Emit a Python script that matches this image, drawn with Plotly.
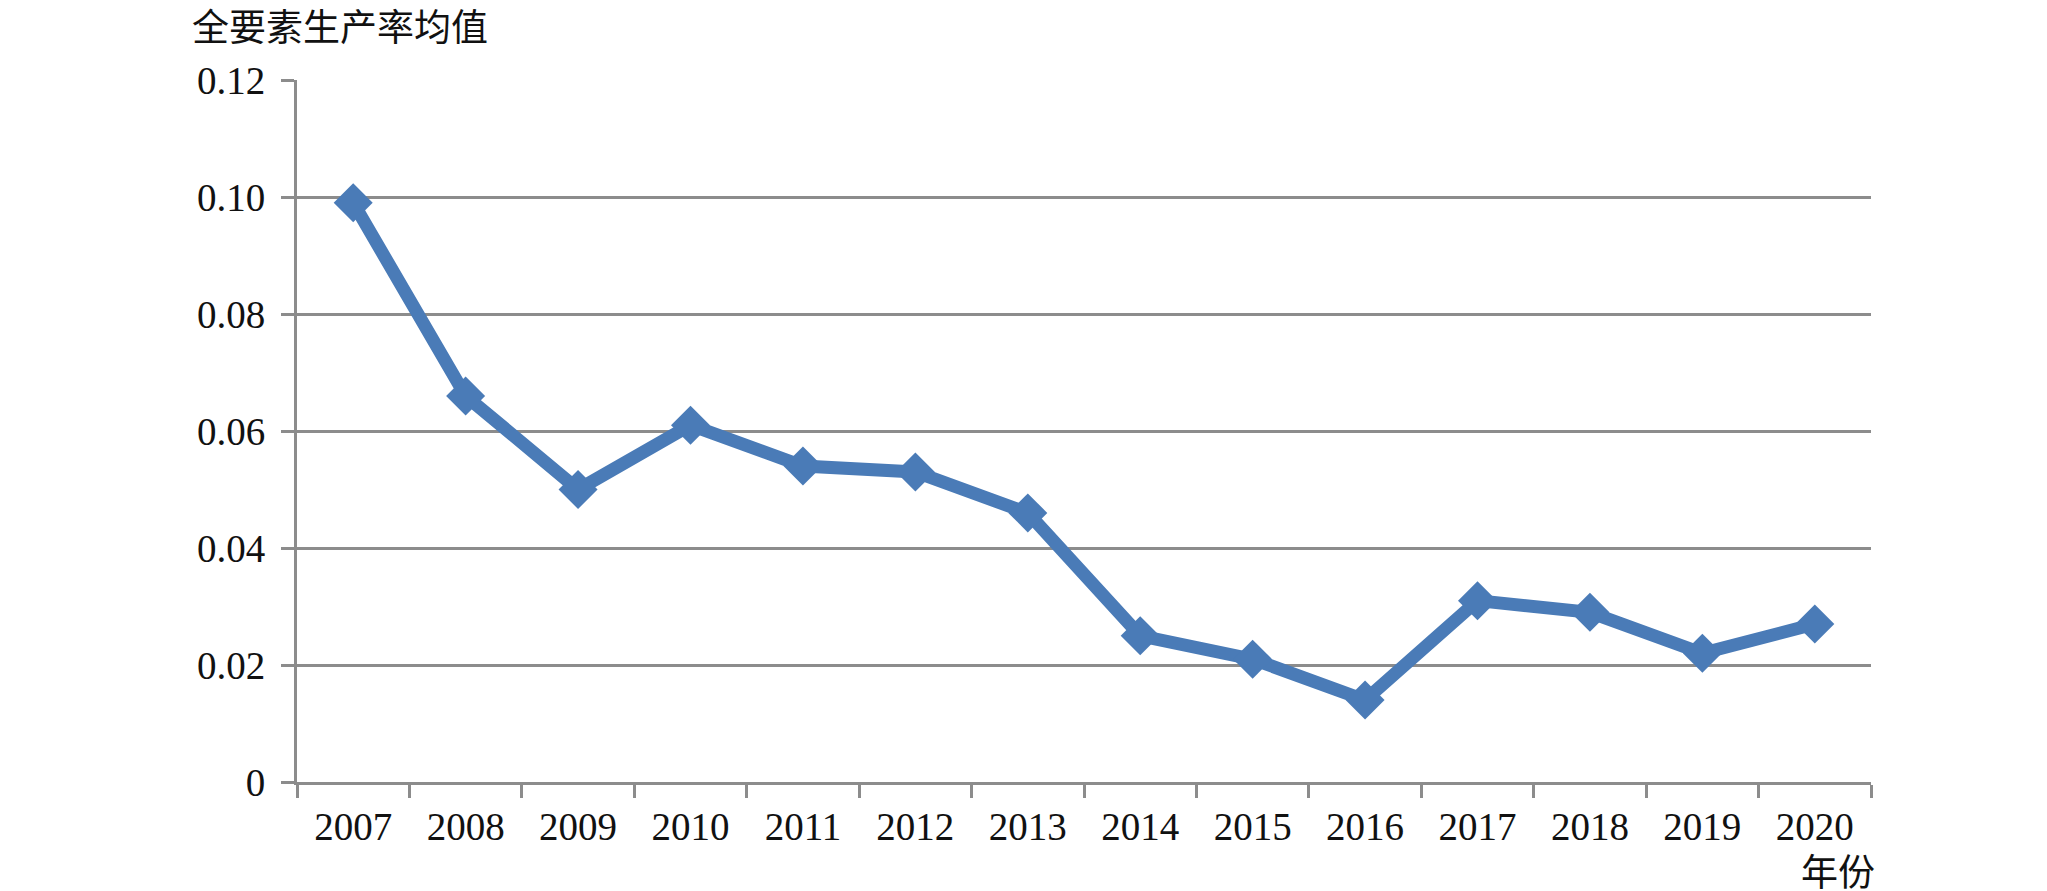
import plotly.graph_objects as go

years = ["2007", "2008", "2009", "2010", "2011", "2012", "2013",
         "2014", "2015", "2016", "2017", "2018", "2019", "2020"]
tfp_mean = [0.099, 0.066, 0.050, 0.061, 0.054, 0.053, 0.046,
            0.025, 0.021, 0.014, 0.031, 0.029, 0.022, 0.027]
y_ticks = [0, 0.02, 0.04, 0.06, 0.08, 0.10, 0.12]
y_tick_labels = ["0", "0.02", "0.04", "0.06", "0.08", "0.10", "0.12"]

font_family = "Liberation Serif, Noto Sans CJK SC, serif"
blue = "#4a7bb7"
grey = "#8c8c8c"


def main():
    fig = go.Figure()
    fig.add_trace(go.Scatter(
        x=years, y=tfp_mean,
        mode="lines+markers",
        line=dict(color=blue, width=13),
        marker=dict(symbol="diamond", size=30, color=blue),
        showlegend=False,
    ))

    fig.update_layout(
        width=2047, height=891,
        margin=dict(l=289, r=184, t=72, b=117),
        paper_bgcolor="white", plot_bgcolor="white",
        font=dict(family=font_family, size=39, color="#111111"),
        xaxis=dict(
            type="category", range=[-0.5, 13.5],
            tickson="boundaries", ticks="outside", ticklen=13,
            tickwidth=3, tickcolor=grey, ticklabelstandoff=8,
            showline=True, linecolor=grey, linewidth=3,
            showgrid=False, zeroline=False,
        ),
        yaxis=dict(
            range=[0, 0.12],
            tickvals=y_ticks, ticktext=y_tick_labels,
            ticks="outside", ticklen=13, tickwidth=3, tickcolor=grey,
            ticklabelstandoff=8,
            showline=True, linecolor=grey, linewidth=3,
            showgrid=True, gridcolor=grey, gridwidth=3,
            zeroline=False,
        ),
        annotations=[
            dict(text="全要素生产率均值", xref="paper", yref="paper",
                 x=-0.068, y=1.074, xanchor="left", yanchor="middle",
                 showarrow=False, font=dict(size=37)),
            dict(text="年份", xref="paper", yref="paper",
                 x=0.979, y=-0.13, xanchor="center", yanchor="middle",
                 showarrow=False, font=dict(size=37)),
        ],
    )
    fig.write_html("out.html")


if __name__ == "__main__":
    main()
